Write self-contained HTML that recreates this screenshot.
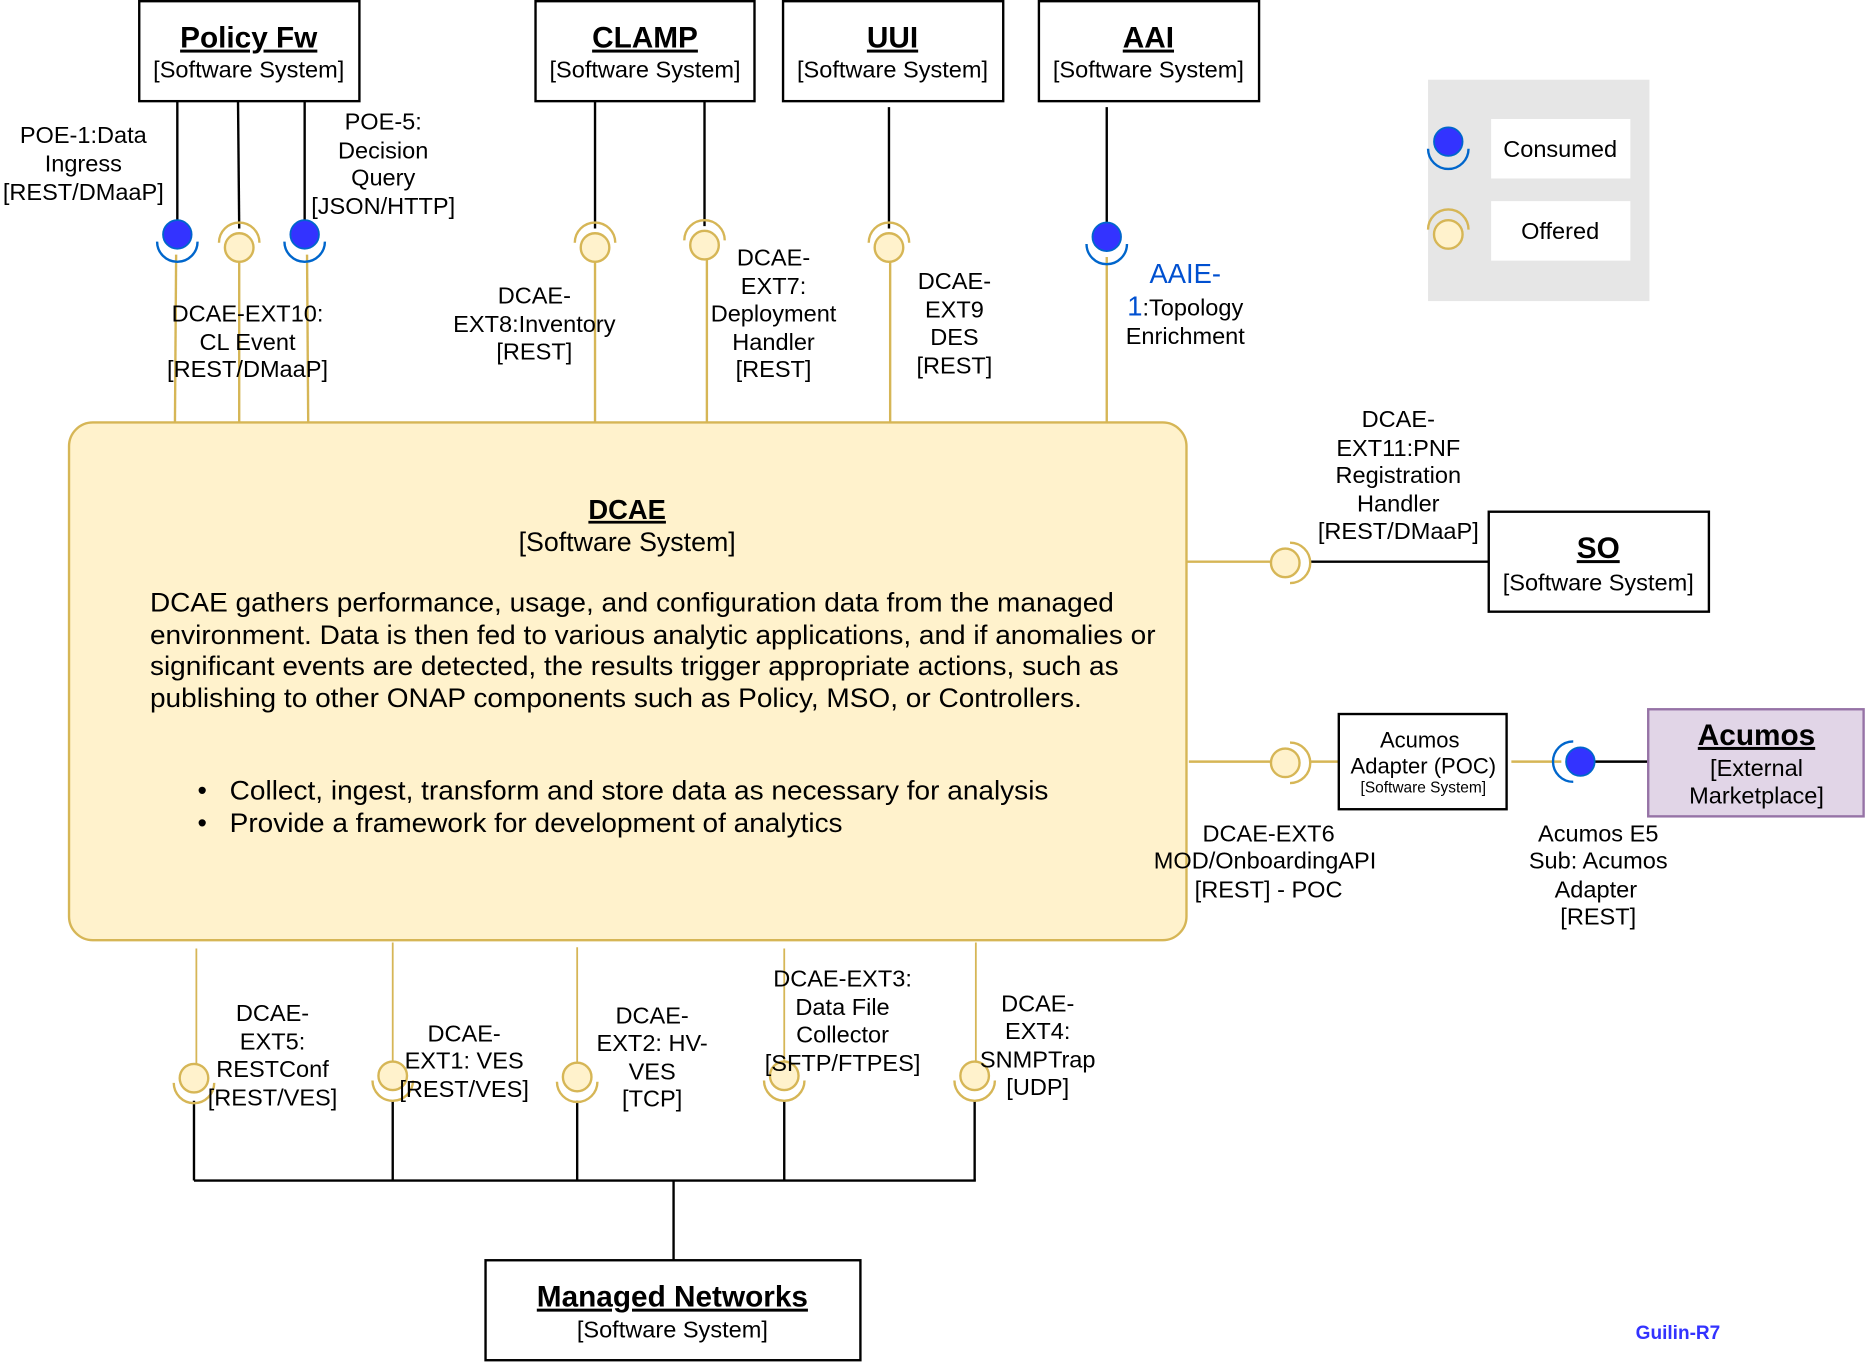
<!DOCTYPE html>
<html><head><meta charset="utf-8"><style>
html,body{margin:0;padding:0;background:#fff;width:1866px;height:1362px;overflow:hidden}
text{font-family:"Liberation Sans",Arial,sans-serif;fill:#000}
</style></head><body>
<svg width="1866" height="1362" viewBox="0 0 1568 1144.5" xmlns="http://www.w3.org/2000/svg">
<defs>
<g id="cons">
 <circle cx="0" cy="0" r="12" fill="#3333ff" stroke="#0066cc" stroke-width="1.5"/>
 <path d="M -17 6 A 17 17 0 0 0 17 6" fill="none" stroke="#0066cc" stroke-width="2"/>
</g>
<g id="offU">
 <circle cx="0" cy="0" r="12" fill="#fff2cc" stroke="#d6b656" stroke-width="2"/>
 <path d="M -17 -4 A 17 17 0 0 1 17 -4" fill="none" stroke="#d6b656" stroke-width="2"/>
</g>
<g id="offD">
 <circle cx="0" cy="0" r="12" fill="#fff2cc" stroke="#d6b656" stroke-width="2"/>
 <path d="M -17 4 A 17 17 0 0 0 17 4" fill="none" stroke="#d6b656" stroke-width="2"/>
</g>
<g id="offR">
 <circle cx="0" cy="0" r="12" fill="#fff2cc" stroke="#d6b656" stroke-width="2"/>
 <path d="M 4 -17 A 17 17 0 0 1 4 17" fill="none" stroke="#d6b656" stroke-width="2"/>
</g>
<g id="consL">
 <circle cx="0" cy="0" r="12" fill="#3333ff" stroke="#0066cc" stroke-width="1.5"/>
 <path d="M -6 -17 A 17 17 0 0 0 -6 17" fill="none" stroke="#0066cc" stroke-width="2"/>
</g>
</defs>

<g stroke="#000" stroke-width="2">
 <line x1="149" y1="85" x2="149" y2="186"/>
 <line x1="200" y1="85" x2="201" y2="192"/>
 <line x1="256" y1="85" x2="256" y2="186"/>
 <line x1="500" y1="85" x2="500" y2="192"/>
 <line x1="592" y1="85" x2="592" y2="190"/>
 <line x1="747" y1="90" x2="747" y2="192"/>
 <line x1="930" y1="90" x2="930" y2="188"/>
</g>
<g stroke="#d6b656" stroke-width="2">
 <line x1="148" y1="214" x2="147" y2="355"/>
 <line x1="201" y1="220" x2="201" y2="355"/>
 <line x1="258" y1="214" x2="259" y2="358"/>
 <line x1="500" y1="220" x2="500" y2="355"/>
 <line x1="594" y1="218" x2="594" y2="355"/>
 <line x1="748" y1="220" x2="748" y2="362"/>
 <line x1="930" y1="216" x2="930" y2="358"/>
</g>

<rect x="58" y="355" width="939" height="435" rx="20" fill="#fff2cc" stroke="#d6b656" stroke-width="2"/>

<use href="#cons" x="149" y="197"/>
<use href="#offU" x="201" y="208"/>
<use href="#cons" x="256" y="197"/>
<use href="#offU" x="500" y="208"/>
<use href="#offU" x="592" y="206"/>
<use href="#offU" x="747" y="208"/>
<use href="#cons" x="930" y="199"/>

<g fill="#fff" stroke="#000" stroke-width="2">
 <rect x="117" y="1" width="185" height="84"/>
 <rect x="450" y="1" width="184" height="84"/>
 <rect x="658" y="1" width="185" height="84"/>
 <rect x="873" y="1" width="185" height="84"/>
</g>
<g text-anchor="middle">
 <text x="209" y="40" font-size="25" font-weight="bold" text-decoration="underline">Policy Fw</text>
 <text x="209" y="65" font-size="19.8">[Software System]</text>
 <text x="542" y="40" font-size="25" font-weight="bold" text-decoration="underline">CLAMP</text>
 <text x="542" y="65" font-size="19.8">[Software System]</text>
 <text x="750" y="40" font-size="25" font-weight="bold" text-decoration="underline">UUI</text>
 <text x="750" y="65" font-size="19.8">[Software System]</text>
 <text x="965" y="40" font-size="25" font-weight="bold" text-decoration="underline">AAI</text>
 <text x="965" y="65" font-size="19.8">[Software System]</text>
</g>

<g text-anchor="middle" font-size="19.8">
 <text x="70" y="120">POE-1:Data</text>
 <text x="70" y="144">Ingress</text>
 <text x="70" y="168">[REST/DMaaP]</text>
 <text x="322" y="109">POE-5:</text>
 <text x="322" y="133">Decision</text>
 <text x="322" y="156">Query</text>
 <text x="322" y="180">[JSON/HTTP]</text>
 <text x="208" y="270">DCAE-EXT10:</text>
 <text x="208" y="294">CL Event</text>
 <text x="208" y="317">[REST/DMaaP]</text>
 <text x="449" y="255">DCAE-</text>
 <text x="449" y="279">EXT8:Inventory</text>
 <text x="449" y="302">[REST]</text>
 <text x="650" y="223">DCAE-</text>
 <text x="650" y="247">EXT7:</text>
 <text x="650" y="270">Deployment</text>
 <text x="650" y="294">Handler</text>
 <text x="650" y="317">[REST]</text>
 <text x="802" y="243">DCAE-</text>
 <text x="802" y="267">EXT9</text>
 <text x="802" y="290">DES</text>
 <text x="802" y="314">[REST]</text>
 <text x="996" y="238" font-size="23" style="fill:#0050d0">AAIE-</text>
 <text x="996" y="265"><tspan style="fill:#0050d0" font-size="23">1</tspan>:Topology</text>
 <text x="996" y="289">Enrichment</text>
</g>

<text x="527" y="436" font-size="23" font-weight="bold" text-anchor="middle" text-decoration="underline">DCAE</text>
<text x="527" y="463" font-size="22.5" text-anchor="middle">[Software System]</text>
<g font-size="22.5">
 <text x="126" y="514" textLength="810" lengthAdjust="spacingAndGlyphs">DCAE gathers performance, usage, and configuration data from the managed</text>
 <text x="126" y="541" textLength="845" lengthAdjust="spacingAndGlyphs">environment. Data is then fed to various analytic applications, and if anomalies or</text>
 <text x="126" y="567" textLength="814" lengthAdjust="spacingAndGlyphs">significant events are detected, the results trigger appropriate actions, such as</text>
 <text x="126" y="594" textLength="783" lengthAdjust="spacingAndGlyphs">publishing to other ONAP components such as Policy, MSO, or Controllers.</text>
 <text x="166" y="672">•</text><text x="193" y="672" textLength="688" lengthAdjust="spacingAndGlyphs">Collect, ingest, transform and store data as necessary for analysis</text>
 <text x="166" y="699">•</text><text x="193" y="699" textLength="515" lengthAdjust="spacingAndGlyphs">Provide a framework for development of analytics</text>
</g>

<line x1="997" y1="472" x2="1068" y2="472" stroke="#d6b656" stroke-width="2"/>
<line x1="1100" y1="472" x2="1251" y2="472" stroke="#000" stroke-width="2"/>
<use href="#offR" x="1080" y="473"/>
<rect x="1251" y="430" width="185" height="84" fill="#fff" stroke="#000" stroke-width="2"/>
<text x="1343" y="469" font-size="25" font-weight="bold" text-anchor="middle" text-decoration="underline">SO</text>
<text x="1343" y="496" font-size="19.8" text-anchor="middle">[Software System]</text>
<g text-anchor="middle" font-size="19.8">
 <text x="1175" y="359">DCAE-</text>
 <text x="1175" y="383">EXT11:PNF</text>
 <text x="1175" y="406">Registration</text>
 <text x="1175" y="430">Handler</text>
 <text x="1175" y="453">[REST/DMaaP]</text>
</g>

<line x1="999" y1="640" x2="1068" y2="640" stroke="#d6b656" stroke-width="2"/>
<line x1="1100" y1="640" x2="1125" y2="640" stroke="#d6b656" stroke-width="2"/>
<use href="#offR" x="1080" y="641"/>
<rect x="1125" y="600" width="141" height="80" fill="#fff" stroke="#000" stroke-width="2"/>
<text x="1193" y="628" font-size="18.5" text-anchor="middle">Acumos</text>
<text x="1196" y="650" font-size="18.5" text-anchor="middle">Adapter (POC)</text>
<text x="1196" y="666" font-size="13" text-anchor="middle">[Software System]</text>
<line x1="1270" y1="640" x2="1312" y2="640" stroke="#d6b656" stroke-width="2"/>
<line x1="1340" y1="640" x2="1385" y2="640" stroke="#000" stroke-width="2"/>
<use href="#consL" x="1328" y="640"/>
<rect x="1385" y="596" width="181" height="90" fill="#e1d5e7" stroke="#9673a6" stroke-width="2"/>
<text x="1476" y="626" font-size="25" font-weight="bold" text-anchor="middle" text-decoration="underline">Acumos</text>
<text x="1476" y="652" font-size="19.8" text-anchor="middle">[External</text>
<text x="1476" y="675" font-size="19.8" text-anchor="middle">Marketplace]</text>
<g text-anchor="middle" font-size="19.8">
 <text x="1066" y="707">DCAE-EXT6</text>
 <text x="1063" y="730">MOD/OnboardingAPI</text>
 <text x="1066" y="754">[REST] - POC</text>
 <text x="1343" y="707">Acumos E5</text>
 <text x="1343" y="730">Sub: Acumos</text>
 <text x="1341" y="754">Adapter</text>
 <text x="1343" y="777">[REST]</text>
</g>

<rect x="1200" y="67" width="186" height="186" fill="#e6e6e6"/>
<rect x="1253" y="100" width="117" height="50" fill="#fff"/>
<rect x="1253" y="169" width="117" height="50" fill="#fff"/>
<use href="#cons" x="1217" y="119"/>
<use href="#offU" x="1217" y="197"/>
<text x="1311" y="132" font-size="19.8" text-anchor="middle">Consumed</text>
<text x="1311" y="201" font-size="19.8" text-anchor="middle">Offered</text>

<g stroke="#d6b656" stroke-width="1.5">
 <line x1="165" y1="797" x2="165" y2="894"/>
 <line x1="330" y1="792" x2="330" y2="894"/>
 <line x1="485" y1="796" x2="485" y2="894"/>
 <line x1="659" y1="797" x2="659" y2="894"/>
 <line x1="820" y1="792" x2="820" y2="894"/>
</g>
<g stroke="#000" stroke-width="2" fill="none">
 <line x1="163" y1="925" x2="163" y2="992"/>
 <line x1="330" y1="925" x2="330" y2="992"/>
 <line x1="485" y1="925" x2="485" y2="992"/>
 <line x1="659" y1="925" x2="659" y2="992"/>
 <line x1="819" y1="925" x2="819" y2="992"/>
 <line x1="163" y1="992" x2="820" y2="992"/>
 <line x1="566" y1="992" x2="566" y2="1059"/>
</g>
<use href="#offD" x="163" y="906"/>
<use href="#offD" x="330" y="904"/>
<use href="#offD" x="485" y="905"/>
<use href="#offD" x="659" y="904"/>
<use href="#offD" x="819" y="904"/>
<g text-anchor="middle" font-size="19.8">
 <text x="229" y="858">DCAE-</text>
 <text x="229" y="882">EXT5:</text>
 <text x="229" y="905">RESTConf</text>
 <text x="229" y="929">[REST/VES]</text>
 <text x="390" y="875">DCAE-</text>
 <text x="390" y="898">EXT1: VES</text>
 <text x="390" y="922">[REST/VES]</text>
 <text x="548" y="860">DCAE-</text>
 <text x="548" y="883">EXT2: HV-</text>
 <text x="548" y="907">VES</text>
 <text x="548" y="930">[TCP]</text>
 <text x="708" y="829">DCAE-EXT3:</text>
 <text x="708" y="853">Data File</text>
 <text x="708" y="876">Collector</text>
 <text x="708" y="900">[SFTP/FTPES]</text>
 <text x="872" y="850">DCAE-</text>
 <text x="872" y="873">EXT4:</text>
 <text x="872" y="897">SNMPTrap</text>
 <text x="872" y="920">[UDP]</text>
</g>
<rect x="408" y="1059" width="315" height="84" fill="#fff" stroke="#000" stroke-width="2"/>
<text x="565" y="1098" font-size="25" font-weight="bold" text-anchor="middle" text-decoration="underline">Managed Networks</text>
<text x="565" y="1124" font-size="19.8" text-anchor="middle">[Software System]</text>

<text x="1410" y="1125" font-size="16" font-weight="bold" text-anchor="middle" style="fill:#3333ff">Guilin-R7</text>
</svg>
</body></html>
